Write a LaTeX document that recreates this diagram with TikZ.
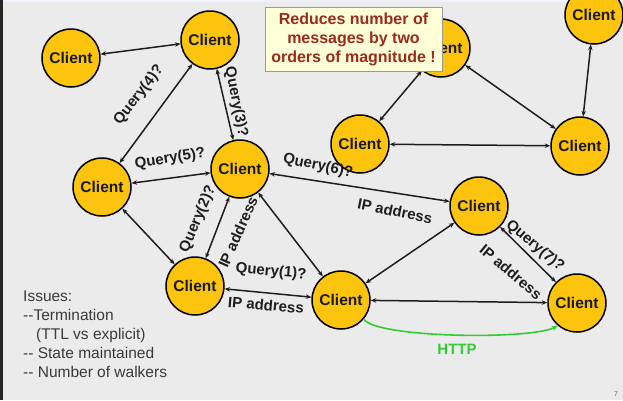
\documentclass[tikz,border=0pt]{standalone}
\usepackage{fontspec}
\setmainfont{Liberation Sans}
\usetikzlibrary{arrows.meta}
\definecolor{bg}{HTML}{EBEBEB}
\definecolor{gold}{HTML}{FCC40C}
\definecolor{boxfill}{HTML}{FFFFD8}
\definecolor{boxtext}{HTML}{9A2A1C}
\definecolor{httpgreen}{HTML}{33CC33}
\definecolor{issuetext}{HTML}{3A3A3A}
\definecolor{edgecol}{HTML}{1E1E1E}
\begin{document}
\begin{tikzpicture}[x=1pt,y=-1pt,
  client/.style={circle, draw=black, line width=1.5pt, fill=gold, minimum size=58pt, inner sep=0pt,
    font=\bfseries\fontsize{15.5}{18}\selectfont, text=black!90},
  link/.style={draw=edgecol, line width=1.5pt, {Stealth[length=5.5pt,width=4.5pt]}-{Stealth[length=5.5pt,width=4.5pt]}},
  lbl/.style={inner sep=0pt, font=\bfseries\fontsize{15}{18}\selectfont, text=edgecol},
  httplink/.style={draw=httpgreen, line width=1.6pt, -{Stealth[length=6pt,width=5pt]}},
  notebox/.style={draw=black!40, line width=0.8pt, fill=boxfill, inner sep=0pt}
]
\useasboundingbox (0,0) rectangle (623,400);
\fill[bg] (0,0) rectangle (623,400);
\fill[white!95!blue] (0,0) rectangle (623,2);
\fill[black!85] (0,0) rectangle (2.5,400);

% nodes
\node[client] (A) at (71,58) {Client};
\node[client] (B) at (210,40) {Client};
\node[client] (C) at (102,187) {Client};
\node[client] (D) at (240,169) {Client};
\node[client] (E) at (195,286) {Client};
\node[client] (F) at (341,300) {Client};
\node[client] (G) at (479,206) {Client};
\node[client] (H) at (577,303) {Client};
\node[client] (I) at (441,48) {Client};
\node[client] (J) at (360,144) {Client};
\node[client] (K) at (580,146) {Client};
\node[client] (L) at (594,15) {Client};

% links
\draw[link] (A) -- (B);
\draw[link] (B) -- (C);
\draw[link] (B) -- (D);
\draw[link] (C) -- (D);
\draw[link] (C) -- (E);
\draw[link] (E) -- (D);
\draw[link] (D) -- (F);
\draw[link] (D) -- (G);
\draw[link] (E) -- (F);
\draw[link] (F) -- (G);
\draw[link] (G) -- (H);
\draw[link] (F) -- (H);
\draw[link] (I) -- (J);
\draw[link] (I) -- (K);
\draw[link] (J) -- (K);
\draw[link] (L) -- (K);
\draw[httplink] (F.-40) .. controls (376,338) and (530,340) .. (H.-130);

% edge labels
\node[lbl, rotate=52] (q4) at (139,95) {Query(4)?};
\node[lbl, rotate=-79] (q3) at (236,102) {Query(3)?};
\node[lbl, rotate=9] (q5) at (170,159) {Query(5)?};
\node[lbl, rotate=-11.5] (q6) at (318,166) {Query(6)?};
\node[lbl, rotate=-11.5] (ip6) at (395,211) {IP address};
\node[lbl, rotate=67] (q2) at (198,219) {Query(2)?};
\node[lbl, rotate=66] (ip2) at (238,232) {IP address};
\node[lbl, rotate=-5] (q1) at (271,272) {Query(1)?};
\node[lbl, rotate=-5] (ip1) at (266,305) {IP address};
\node[lbl, rotate=-40] (q7) at (535,246) {Query(7)?};
\node[lbl, rotate=-40] (ip7) at (511,272) {IP address};
\node[lbl, text=httpgreen] (http) at (457,349) {HTTP};

% note box
\node[notebox, minimum width=177pt, minimum height=64pt] (note) at (353.5,39)
  {\parbox{177pt}{\centering\bfseries\fontsize{16}{19}\selectfont\color{boxtext}
   Reduces number of\\ messages by two\\ orders of magnitude !}};

% issues
\node[anchor=north west, inner sep=0pt, align=left, text=issuetext,
  font=\fontsize{15.5}{19}\selectfont] (issues) at (23,291)
  {Issues:\\-{}-Termination\\\hspace*{13pt}(TTL vs explicit)\\-{}- State maintained\\-{}- Number of walkers};

\node[inner sep=0pt, text=black!60, font=\fontsize{7}{8}\selectfont] (pg) at (616,394) {7};
\end{tikzpicture}
\end{document}
